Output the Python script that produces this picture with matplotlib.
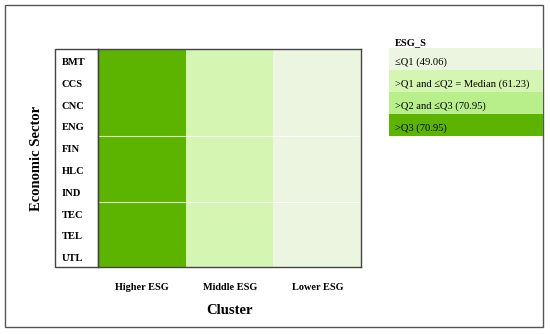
import numpy as np
import matplotlib
matplotlib.use("Agg")
import matplotlib.pyplot as plt
from matplotlib.colors import ListedColormap
from matplotlib.patches import Rectangle

# Data
sectors = ["BMT", "CCS", "CNC", "ENG", "FIN", "HLC", "IND", "TEC", "TEL", "UTL"]
clusters = ["Higher ESG", "Middle ESG", "Lower ESG"]
# quartile class per cell: 0 = <=Q1, 1 = Q1-Q2, 2 = Q2-Q3, 3 = >Q3
quartile = [
    [3, 1, 0],
    [3, 1, 0],
    [3, 1, 0],
    [3, 1, 0],
    [3, 1, 0],
    [3, 1, 0],
    [3, 1, 0],
    [3, 1, 0],
    [3, 1, 0],
    [3, 1, 0],
]
legend_title = "ESG_S"
legend_labels = ["\u2264Q1 (49.06)", ">Q1 and \u2264Q2 = Median (61.23)",
                 ">Q2 and \u2264Q3 (70.95)", ">Q3 (70.95)"]
group_breaks = [4, 7]

colors = ["#ebf5df", "#d5f6b2", "#b9ef8b", "#5cb400"]

plt.rcParams["font.family"] = ["Liberation Serif", "DejaVu Serif"]

fig = plt.figure(figsize=(5.5, 3.34), dpi=100)
W, H = 550, 334

def fx(x):
    return x / W

def fy(y):
    return 1 - y / H

# outer frame
fig.patches.append(Rectangle((fx(5), fy(327)), fx(538), 322 / H, transform=fig.transFigure,
                             fill=False, edgecolor="#555555", linewidth=1.0))
# row label box
fig.patches.append(Rectangle((fx(55), fy(267)), fx(43), 218 / H, transform=fig.transFigure,
                             fill=False, edgecolor="#444444", linewidth=1.0))

ax = fig.add_axes([fx(98), fy(267), fx(263), 218 / H])
data = np.array(quartile)
cmap = ListedColormap(colors)
ax.imshow(data, cmap=cmap, vmin=-0.5, vmax=3.5, aspect="auto", interpolation="nearest")
for b in group_breaks:
    ax.axhline(b - 0.5, color="white", linewidth=0.8, alpha=0.8)
ax.set_xticks([])
ax.set_yticks([])
for s in ax.spines.values():
    s.set_color("#444444")
    s.set_linewidth(1.0)

# row labels
for i, name in enumerate(sectors):
    fig.text(fx(62), fy(49 + 21.8 * i + 13.5), name, fontsize=7.6, fontweight="bold",
             ha="left", va="center")

# column labels
col_centers = [142, 230, 318]
for c, name in zip(col_centers, clusters):
    fig.text(fx(c), fy(288), name, fontsize=7.4, fontweight="bold", ha="center", va="center")

fig.text(fx(230), fy(311), "Cluster", fontsize=10.5, fontweight="bold", ha="center", va="center")
fig.text(fx(36), fy(158), "Economic Sector", fontsize=10.5, fontweight="bold",
         ha="center", va="center", rotation=90)

# legend
fig.text(fx(395), fy(43), legend_title, fontsize=7.5, fontweight="bold", ha="left", va="center")
row_edges = [48, 70.5, 92, 114, 136]
for k, lab in enumerate(legend_labels):
    y0, y1 = row_edges[k], row_edges[k + 1]
    fig.patches.append(Rectangle((fx(389), fy(y1)), fx(154), (y1 - y0) / H,
                                 transform=fig.transFigure, facecolor=colors[k],
                                 edgecolor="none"))
    fig.text(fx(395), fy((y0 + y1) / 2 + 3), lab, fontsize=7.6, ha="left", va="center")

fig.savefig("out.png", dpi=100)
